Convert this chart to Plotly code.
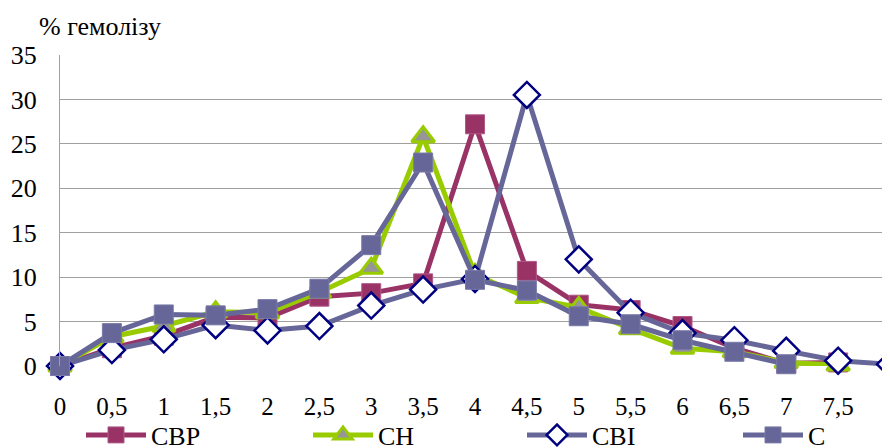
import plotly.graph_objects as go

x_cbp = [0, 0.5, 1, 1.5, 2, 2.5, 3, 3.5, 4, 4.5, 5, 5.5, 6, 6.5, 7, 7.5]
y_cbp = [0, 2.0, 3.4, 5.5, 5.4, 7.8, 8.2, 9.3, 27.2, 10.7, 6.9, 6.3, 4.5, 2.0, 0.3, 0.4]

x_ch = [0, 0.5, 1, 1.5, 2, 2.5, 3, 3.5, 4, 4.5, 5, 5.5, 6, 6.5, 7, 7.5]
y_ch = [0, 3.3, 4.5, 6.1, 6.0, 8.3, 11.0, 25.8, 10.3, 7.7, 6.6, 4.2, 2.0, 1.6, 0.4, 0.1]

x_cbi = [0, 0.5, 1, 1.5, 2, 2.5, 3, 3.5, 4, 4.5, 5, 5.5, 6, 6.5, 7, 7.5, 8]
y_cbi = [0, 1.8, 3.0, 4.6, 4.0, 4.5, 6.8, 8.6, 9.8, 30.5, 12.0, 6.0, 3.7, 2.9, 1.7, 0.6, 0.2]

x_c = [0, 0.5, 1, 1.5, 2, 2.5, 3, 3.5, 4, 4.5, 5, 5.5, 6, 6.5, 7]
y_c = [0, 3.7, 5.8, 5.7, 6.4, 8.7, 13.6, 22.9, 9.7, 8.5, 5.6, 4.7, 2.9, 1.6, 0.2]

x_tick_vals = [0, 0.5, 1, 1.5, 2, 2.5, 3, 3.5, 4, 4.5, 5, 5.5, 6, 6.5, 7, 7.5, 8]
x_tick_text = ["0", "0,5", "1", "1,5", "2", "2,5", "3", "3,5", "4", "4,5", "5", "5,5", "6", "6,5", "7", "7,5", "8"]
y_tick_vals = [0, 5, 10, 15, 20, 25, 30, 35]

FONT = "Liberation Serif"
W, H = 882, 440  # page body has an 8px margin
legend_x = [73, 300, 514, 730]  # left edges of legend entries (px, figure coords)

fig = go.Figure()
fig.add_trace(go.Scatter(
    x=x_cbp, y=y_cbp, name="СВР", mode="lines+markers", legend="legend",
    line=dict(color="#993366", width=5),
    marker=dict(symbol="square", size=19, color="#993366",
                line=dict(color="#b0588a", width=1)),
    cliponaxis=False))
fig.add_trace(go.Scatter(
    x=x_ch, y=y_ch, name="СН", mode="lines+markers", legend="legend2",
    line=dict(color="#99CC00", width=5),
    marker=dict(symbol="triangle-up", size=20, color="#969696",
                line=dict(color="#99CC00", width=3)),
    cliponaxis=False))
fig.add_trace(go.Scatter(
    x=x_cbi, y=y_cbi, name="СВІ", mode="lines+markers", legend="legend3",
    line=dict(color="#666699", width=5),
    marker=dict(symbol="diamond", size=20, color="#FFFFFF",
                line=dict(color="#000080", width=2.5)),
    cliponaxis=False))
fig.add_trace(go.Scatter(
    x=x_c, y=y_c, name="С", mode="lines+markers", legend="legend4",
    line=dict(color="#666699", width=5),
    marker=dict(symbol="square", size=19, color="#666699",
                line=dict(color="#7a7aa8", width=1)),
    cliponaxis=False))

def leg(px):
    return dict(orientation="h", xref="container", yref="container",
                x=px / W, xanchor="left", y=(H - 427) / H, yanchor="middle",
                font=dict(family=FONT, size=26, color="black"),
                itemwidth=60, bgcolor="rgba(0,0,0,0)")

fig.update_layout(
    width=W, height=H,
    margin=dict(l=52, r=0, t=47, b=82, autoexpand=False),
    paper_bgcolor="white", plot_bgcolor="white",
    font=dict(family=FONT, size=25, color="black"),
    showlegend=True,
    legend=leg(legend_x[0]), legend2=leg(legend_x[1]),
    legend3=leg(legend_x[2]), legend4=leg(legend_x[3]),
    annotations=[
        dict(text="% гемолізу", xref="paper", yref="paper",
             x=-0.028, y=1.0, xanchor="left", yanchor="bottom", yshift=12,
             showarrow=False, font=dict(family=FONT, size=26, color="black")),
        # last x tick label, partly cut off at the right edge as in the reference
        dict(text=x_tick_text[-1], x=x_tick_vals[-1], xref="x", yref="paper", y=0,
             xanchor="center", yanchor="middle", yshift=-39, showarrow=False,
             font=dict(family=FONT, size=25, color="black")),
    ],
)
fig.update_xaxes(range=[0, 8], tickvals=x_tick_vals, ticktext=x_tick_text,
                 showgrid=False, zeroline=False, showline=False,
                 ticks="", ticklabelstandoff=23, automargin=False,
                 tickfont=dict(family=FONT, size=25, color="black"))
fig.update_yaxes(range=[0, 35], tickvals=y_tick_vals,
                 showgrid=True, gridcolor="#a0a0a0", gridwidth=1,
                 zeroline=False, showline=True, linecolor="#a0a0a0", linewidth=1,
                 ticks="", ticklabelstandoff=17, automargin=False,
                 tickfont=dict(family=FONT, size=26, color="black"))

fig.write_html("out.html")
